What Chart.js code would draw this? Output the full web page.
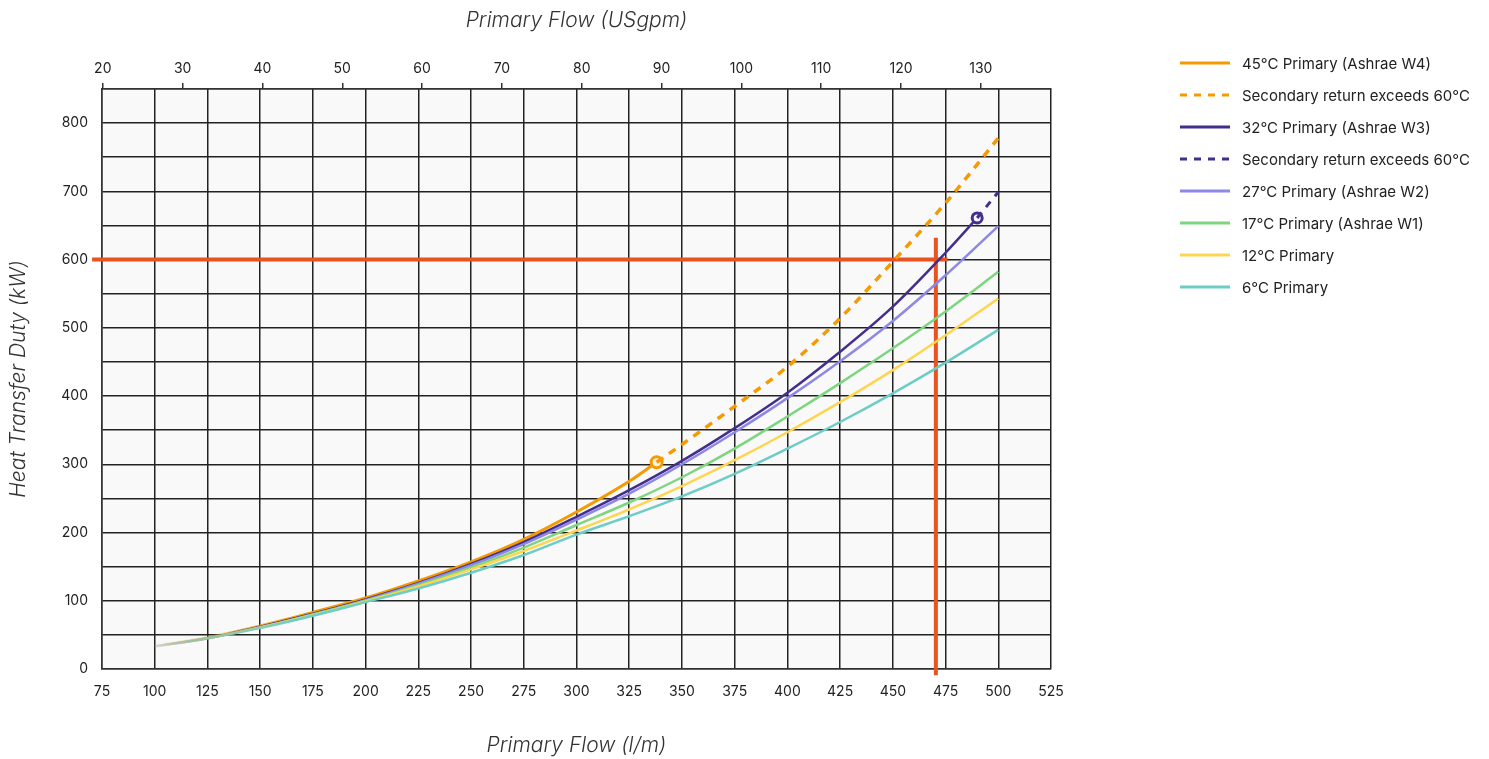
<!DOCTYPE html>
<html lang="en">
<head>
<meta charset="UTF-8">
<title>Heat Transfer Duty</title>
<script src="https://cdn.jsdelivr.net/npm/chart.js"></script>
<style>
  html, body { margin: 0; padding: 0; background: #fff; }
  .wrap { position: relative; width: 1489px; height: 759px; }
  .legend { position: absolute; left: 1180px; top: 47px; font-family: Inter, "Noto Sans", sans-serif; font-size: 15px; color: #222; }
  .legend .row { height: 32px; display: flex; align-items: center; }
  .legend svg { width: 50px; height: 6px; margin-right: 12px; }
</style>
</head>
<body>
<div class="wrap">
  <canvas id="myChart" width="1489" height="759"></canvas>
  <div class="legend" id="legend"></div>
</div>

<script>
// flow in l/m, duty in kW
const w4Flow     = [100, 125, 150, 175, 200, 225, 250, 275, 300, 325, 338];
const w4Duty     = [34, 46, 63, 83, 104, 129, 157, 190, 230, 275, 303];
const w4DashFlow = [338, 350, 375, 400, 425, 450, 475, 500];
const w4DashDuty = [303, 329, 385, 443, 514, 597, 683, 778];

const w3Flow     = [100, 125, 150, 175, 200, 225, 250, 275, 300, 325, 350, 375, 400, 425, 450, 475, 490];
const w3Duty     = [33, 45, 62, 81, 102, 126, 154, 186, 223, 262, 305, 353, 405, 465, 531, 610, 661];
const w3DashFlow = [490, 500];
const w3DashDuty = [661, 699];

const flow    = [100, 125, 150, 175, 200, 225, 250, 275, 300, 325, 350, 375, 400, 425, 450, 475, 500];
const w2Duty  = [33, 45, 61, 80, 101, 125, 152, 183, 219, 257, 300, 347, 397, 451, 510, 577, 649];
const w1Duty  = [33, 45, 61, 80, 100, 123, 149, 178, 211, 244, 281, 323, 370, 419, 470, 524, 582];
const p12Duty = [33, 45, 61, 79, 99, 121, 146, 173, 203, 234, 268, 306, 347, 391, 438, 489, 543];
const p6Duty  = [33, 45, 60, 78, 98, 118, 141, 167, 197, 224, 253, 286, 323, 362, 404, 449, 497];

// reference lines (duty point)
const hLineFlow = [70.3, 476];
const hLineDuty = [600, 600];
const vLineFlow = [470.4, 470.4];
const vLineDuty = [632, -9];

const gpmTicks = [20, 30, 40, 50, 60, 70, 80, 90, 100, 110, 120, 130];
const legendLabels = [
    '45°C Primary (Ashrae W4)',
    'Secondary return exceeds 60°C',
    '32°C Primary (Ashrae W3)',
    'Secondary return exceeds 60°C',
    '27°C Primary (Ashrae W2)',
    '17°C Primary (Ashrae W1)',
    '12°C Primary',
    '6°C Primary'
];

const orange = '#f59a00';
const indigo = '#432e8e';
const lilac = '#8d88e6';
const green = '#7dd67f';
const yellow = '#ffd550';
const teal = '#6ccdc6';
const red = '#e8531f';

function pts(xs, ys) {
    return xs.map((x, i) => ({ x: x, y: ys[i] }));
}

// lines fade in at the low-flow end
function fade(color) {
    return function (c) {
        const chart = c.chart;
        if (!chart.chartArea) return color;
        const sx = chart.scales.x;
        const g = chart.ctx.createLinearGradient(sx.getPixelForValue(100), 0, sx.getPixelForValue(165), 0);
        g.addColorStop(0, color + '10');
        g.addColorStop(1, color);
        return g;
    };
}

function lastPoint(n, r) {
    return function (c) { return c.dataIndex === n - 1 ? r : 0; };
}

const tickFont = { family: 'Inter, "Noto Sans", sans-serif', size: 14 };
const titleFont = { family: 'Inter, "Noto Sans", sans-serif', size: 21, style: 'italic', weight: 300 };

const plotBg = {
    id: 'plotBg',
    beforeDraw(chart) {
        const a = chart.chartArea;
        chart.ctx.save();
        chart.ctx.fillStyle = '#f9f9f9';
        chart.ctx.fillRect(a.left, a.top, a.right - a.left, a.bottom - a.top);
        chart.ctx.restore();
    }
};

const ctx = document.getElementById('myChart');

new Chart(ctx, {
    type: 'line',
    data: {
        datasets: [
            { label: legendLabels[7], data: pts(flow, p6Duty), borderColor: fade(teal), borderWidth: 2.5, pointRadius: 0 },
            { label: legendLabels[6], data: pts(flow, p12Duty), borderColor: fade(yellow), borderWidth: 2.5, pointRadius: 0 },
            { label: legendLabels[5], data: pts(flow, w1Duty), borderColor: fade(green), borderWidth: 2.5, pointRadius: 0 },
            { label: legendLabels[4], data: pts(flow, w2Duty), borderColor: fade(lilac), borderWidth: 2.5, pointRadius: 0 },
            { label: legendLabels[3], data: pts(w3DashFlow, w3DashDuty), borderColor: indigo, borderWidth: 3, borderDash: [7, 7], pointRadius: 0 },
            { label: legendLabels[2], data: pts(w3Flow, w3Duty), borderColor: fade(indigo), borderWidth: 2.5, pointRadius: lastPoint(w3Flow.length, 5), pointBorderColor: indigo, pointBackgroundColor: '#f4f2fa', pointBorderWidth: 3 },
            { label: legendLabels[1], data: pts(w4DashFlow, w4DashDuty), borderColor: orange, borderWidth: 3.5, borderDash: [8, 7], pointRadius: 0 },
            { label: legendLabels[0], data: pts(w4Flow, w4Duty), borderColor: fade(orange), borderWidth: 3, pointRadius: lastPoint(w4Flow.length, 5.5), pointBorderColor: orange, pointBackgroundColor: '#fdf3e3', pointBorderWidth: 3 },
            { label: 'duty', data: pts(hLineFlow, hLineDuty), borderColor: red, borderWidth: 4, pointRadius: 0, clip: false },
            { label: 'flow', data: pts(vLineFlow, vLineDuty), borderColor: red, borderWidth: 4, pointRadius: 0, clip: false }
        ]
    },
    options: {
        responsive: false,
        animation: false,
        cubicInterpolationMode: 'monotone',
        layout: { padding: { left: 0, right: 438, top: 0, bottom: 0 } },
        plugins: {
            legend: { display: false },
            tooltip: { enabled: false }
        },
        scales: {
            x: {
                type: 'linear',
                position: 'bottom',
                min: 75,
                max: 525,
                afterFit: function (s) { s.height = 90; },
                ticks: { stepSize: 25, padding: 14, color: '#222', font: tickFont, maxRotation: 0 },
                grid: { color: '#222', lineWidth: 1.5, drawTicks: false },
                border: { color: '#333', width: 1.5 },
                title: { display: true, text: 'Primary Flow (l/m)', color: '#333', font: titleFont, padding: { top: 0, bottom: 1 } }
            },
            x2: {
                type: 'linear',
                position: 'top',
                min: 19.9,
                max: 19.9 + 450 / 3.785,
                afterBuildTicks: function (s) { s.ticks = gpmTicks.map(v => ({ value: v })); },
                afterFit: function (s) { s.height = 89; },
                ticks: { padding: 6, color: '#222', font: tickFont, maxRotation: 0, autoSkip: false },
                grid: { drawOnChartArea: false, drawTicks: true, tickLength: 6, color: '#333', lineWidth: 1.5 },
                border: { color: '#333', width: 1.5 },
                title: { display: true, text: 'Primary Flow (USgpm)', color: '#333', font: titleFont, padding: { top: 8, bottom: 0 } }
            },
            y: {
                min: 0,
                max: 850,
                afterFit: function (s) { s.width = 102; },
                ticks: {
                    stepSize: 50,
                    padding: 14,
                    color: '#222',
                    font: tickFont,
                    callback: v => (v % 100 === 0 ? v : '')
                },
                grid: { color: '#222', lineWidth: 1.5, drawTicks: false },
                border: { color: '#333', width: 1.5 },
                title: { display: true, text: 'Heat Transfer Duty (kW)', color: '#333', font: titleFont, padding: { top: 6, bottom: 0 } }
            }
        }
    },
    plugins: [plotBg]
});

// legend on the right
const legendStyles = [
    [orange, ''], [orange, '7 7'], [indigo, ''], [indigo, '7 7'],
    [lilac, ''], [green, ''], [yellow, ''], [teal, '']
];
const legendBox = document.getElementById('legend');
legendLabels.forEach(function (text, i) {
    const row = document.createElement('div');
    row.className = 'row';
    const st = legendStyles[i];
    row.innerHTML = '<svg viewBox="0 0 50 6"><line x1="0" y1="3" x2="50" y2="3" stroke="' + st[0] +
        '" stroke-width="3"' + (st[1] ? ' stroke-dasharray="' + st[1] + '"' : '') + '/></svg><span>' + text + '</span>';
    legendBox.appendChild(row);
});
</script>
</body>
</html>
